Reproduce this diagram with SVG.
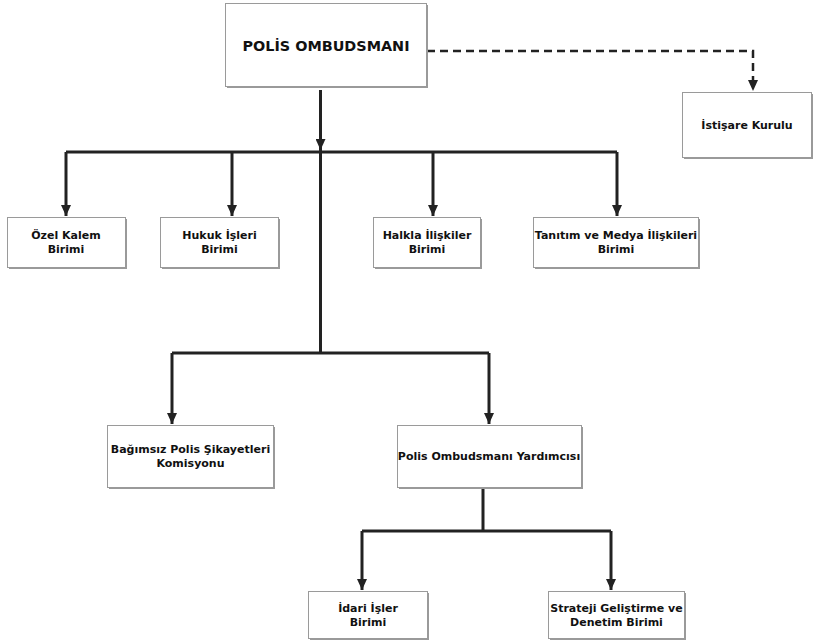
<svg xmlns="http://www.w3.org/2000/svg" width="815" height="641" viewBox="0 0 815 641">
<style>
.box{fill:#fff;stroke:#9a9a9a;stroke-width:1}
.sh{fill:#9a9a9a}
.t{font-family:"DejaVu Sans",Verdana,sans-serif;font-weight:bold;font-size:11px;fill:#111;text-anchor:middle}
.title{font-size:14.4px}
.c{fill:none;stroke:#222;stroke-width:3}
.d{fill:none;stroke:#222;stroke-width:2.5;stroke-dasharray:8,5}
</style>
<defs>
<marker id="arr" markerUnits="userSpaceOnUse" markerWidth="10" markerHeight="11" refX="5" refY="11" orient="0" viewBox="0 0 10 11">
<path d="M0,0 L10,0 L5,11 z" fill="#222"/>
</marker>
</defs>
<rect width="815" height="641" fill="#fff"/>
<g id="connectors">
<line class="c" x1="320.5" y1="90" x2="320.5" y2="150" stroke-width="4" marker-end="url(#arr)"/>
<path class="c" d="M320.5,150 V353"/>
<path class="c" d="M66,152 H617"/>
<line class="c" x1="66" y1="152" x2="66" y2="216" marker-end="url(#arr)"/>
<line class="c" x1="232" y1="152" x2="232" y2="216" marker-end="url(#arr)"/>
<line class="c" x1="433" y1="152" x2="433" y2="216" marker-end="url(#arr)"/>
<line class="c" x1="617" y1="152" x2="617" y2="216" marker-end="url(#arr)"/>
<path class="c" d="M172,353 H489"/>
<line class="c" x1="172" y1="353" x2="172" y2="424" marker-end="url(#arr)"/>
<line class="c" x1="489" y1="353" x2="489" y2="424" marker-end="url(#arr)"/>
<path class="c" d="M483,488 V531 M362,531 H611"/>
<line class="c" x1="362" y1="531" x2="362" y2="590" marker-end="url(#arr)"/>
<line class="c" x1="611" y1="531" x2="611" y2="590" marker-end="url(#arr)"/>
<path class="d" d="M427,51 H753 V82"/>
<line x1="753" y1="82" x2="753" y2="91" stroke="none" marker-end="url(#arr)"/>
</g>
<g id="n-polis-ombudsmani">
<rect class="sh" x="227" y="5" width="201" height="83"/>
<rect class="box" x="225.5" y="3.5" width="201" height="83"/>
<text class="t title" x="326" y="51">POLİS OMBUDSMANI</text>
</g>
<g id="n-istisare">
<rect class="sh" x="684" y="94" width="129" height="65"/>
<rect class="box" x="682.5" y="92.5" width="129" height="65"/>
<text class="t" x="747" y="129">İstişare Kurulu</text>
</g>
<g id="n-ozel-kalem">
<rect class="sh" x="9" y="219" width="118" height="50"/>
<rect class="box" x="7.5" y="217.5" width="118" height="50"/>
<text class="t" x="66" y="239">Özel Kalem</text>
<text class="t" x="66" y="253">Birimi</text>
</g>
<g id="n-hukuk">
<rect class="sh" x="162" y="219" width="118" height="50"/>
<rect class="box" x="160.5" y="217.5" width="118" height="50"/>
<text class="t" x="219.5" y="239">Hukuk İşleri</text>
<text class="t" x="219.5" y="253">Birimi</text>
</g>
<g id="n-halkla">
<rect class="sh" x="375" y="219" width="107" height="50"/>
<rect class="box" x="373.5" y="217.5" width="107" height="50"/>
<text class="t" x="427" y="239">Halkla İlişkiler</text>
<text class="t" x="427" y="253">Birimi</text>
</g>
<g id="n-tanitim">
<rect class="sh" x="535" y="219" width="165" height="50"/>
<rect class="box" x="533.5" y="217.5" width="165" height="50"/>
<text class="t" x="616" y="239">Tanıtım ve Medya İlişkileri</text>
<text class="t" x="616" y="253">Birimi</text>
</g>
<g id="n-bagimsiz">
<rect class="sh" x="109" y="427" width="166" height="62"/>
<rect class="box" x="107.5" y="425.5" width="166" height="62"/>
<text class="t" x="190.5" y="453">Bağımsız Polis Şikayetleri</text>
<text class="t" x="190.5" y="467">Komisyonu</text>
</g>
<g id="n-yardimcisi">
<rect class="sh" x="399" y="427" width="184" height="62"/>
<rect class="box" x="397.5" y="425.5" width="184" height="62"/>
<text class="t" x="489" y="460">Polis Ombudsmanı Yardımcısı</text>
</g>
<g id="n-idari">
<rect class="sh" x="310" y="593" width="119" height="47"/>
<rect class="box" x="308.5" y="591.5" width="119" height="47"/>
<text class="t" x="368" y="612">İdari İşler</text>
<text class="t" x="368" y="626">Birimi</text>
</g>
<g id="n-strateji">
<rect class="sh" x="550" y="593" width="136" height="47"/>
<rect class="box" x="548.5" y="591.5" width="136" height="47"/>
<text class="t" x="616.5" y="612">Strateji Geliştirme ve</text>
<text class="t" x="616.5" y="626">Denetim Birimi</text>
</g>
</svg>
